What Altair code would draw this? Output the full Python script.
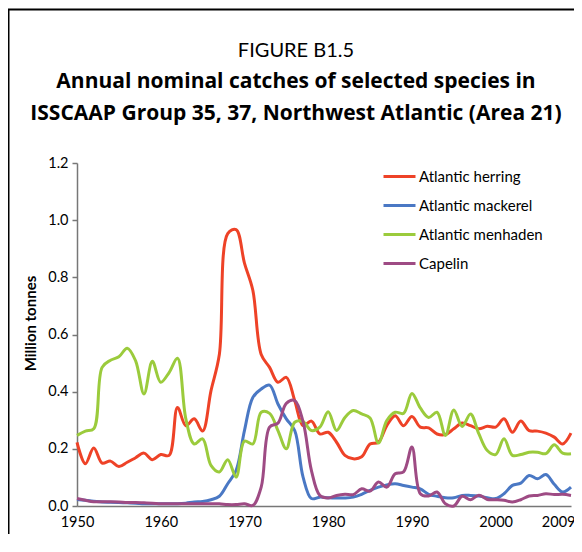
import altair as alt
import pandas as pd

years = list(range(1950, 2010))

herring = [0.223, 0.148, 0.203, 0.150, 0.157, 0.138, 0.153, 0.169, 0.185, 0.162,
           0.180, 0.177, 0.345, 0.281, 0.305, 0.262, 0.403, 0.530, 0.953, 0.967,
           0.850, 0.755, 0.530, 0.485, 0.433, 0.450, 0.369, 0.281, 0.297, 0.252,
           0.258, 0.223, 0.177, 0.165, 0.172, 0.217, 0.223, 0.281, 0.316, 0.281,
           0.313, 0.276, 0.273, 0.252, 0.250, 0.270, 0.290, 0.281, 0.270, 0.279,
           0.276, 0.305, 0.258, 0.297, 0.264, 0.262, 0.255, 0.241, 0.217, 0.255]

mackerel = [0.023, 0.020, 0.017, 0.014, 0.013, 0.012, 0.011, 0.010, 0.008, 0.008,
            0.008, 0.008, 0.008, 0.010, 0.014, 0.016, 0.022, 0.034, 0.078, 0.124,
            0.264, 0.380, 0.409, 0.423, 0.357, 0.305, 0.264, 0.101, 0.026, 0.031,
            0.029, 0.028, 0.028, 0.031, 0.041, 0.055, 0.066, 0.074, 0.078, 0.072,
            0.066, 0.060, 0.041, 0.034, 0.029, 0.029, 0.037, 0.037, 0.035, 0.029,
            0.026, 0.043, 0.072, 0.080, 0.107, 0.095, 0.110, 0.076, 0.049, 0.066]

menhaden = [0.247, 0.262, 0.270, 0.485, 0.510, 0.522, 0.552, 0.508, 0.392, 0.506,
            0.433, 0.467, 0.517, 0.305, 0.217, 0.235, 0.142, 0.119, 0.162, 0.101,
            0.227, 0.217, 0.328, 0.324, 0.264, 0.200, 0.293, 0.295, 0.264, 0.276,
            0.330, 0.264, 0.310, 0.334, 0.322, 0.308, 0.220, 0.299, 0.328, 0.324,
            0.394, 0.343, 0.310, 0.328, 0.247, 0.336, 0.278, 0.322, 0.252, 0.194,
            0.180, 0.235, 0.177, 0.180, 0.188, 0.188, 0.183, 0.214, 0.185, 0.183]

capelin = [0.026, 0.020, 0.015, 0.015, 0.015, 0.014, 0.012, 0.012, 0.011, 0.010,
           0.008, 0.008, 0.008, 0.008, 0.008, 0.008, 0.008, 0.008, 0.005, 0.005,
           0.008, 0.002, 0.066, 0.276, 0.290, 0.359, 0.369, 0.295, 0.124, 0.037,
           0.028, 0.037, 0.041, 0.040, 0.060, 0.052, 0.084, 0.066, 0.113, 0.119,
           0.206, 0.043, 0.035, 0.049, 0.008, 0.000, 0.034, 0.022, 0.038, 0.023,
           0.022, 0.020, 0.014, 0.022, 0.035, 0.037, 0.043, 0.040, 0.041, 0.037]

species = ["Atlantic herring", "Atlantic mackerel", "Atlantic menhaden", "Capelin"]
colors = ["#EE4227", "#4A78C4", "#9BCB3C", "#9E4B84"]
series = [herring, mackerel, menhaden, capelin]

x_ticks = [1950, 1960, 1970, 1980, 1990, 2000, 2009]
y_ticks = [0.0, 0.2, 0.4, 0.6, 0.8, 1.0, 1.2]

rows = []
for name, vals in zip(species, series):
    for yr, v in zip(years, vals):
        rows.append({"year": yr, "species": name, "value": v})
df = pd.DataFrame(rows)

FONT = "Lato"

lines = alt.Chart(df).mark_line(strokeWidth=3, interpolate="catmull-rom", clip=False).encode(
    x=alt.X("year:Q",
            scale=alt.Scale(domain=[1950, 2009], nice=False, zero=False),
            axis=alt.Axis(values=x_ticks, format="d", title=None, tickSize=0,
                          labelFlush=False, labelPadding=9, labelFontSize=14.5,
                          labelColor="black", labelFont=FONT,
                          labelAlign={"condition": {"test": "datum.value == 2009", "value": "right"},
                                      "value": "center"},
                          labelOffset={"condition": {"test": "datum.value == 2009", "value": 4},
                                       "value": 0},
                          domainColor="#777777", domainWidth=1.5, grid=False)),
    y=alt.Y("value:Q",
            scale=alt.Scale(domain=[0, 1.2], nice=False),
            axis=alt.Axis(values=y_ticks, format=".1f", title="Million tonnes",
                          titleFontWeight="bold", titleFontSize=15, titleColor="black",
                          titleFont=FONT, titlePadding=9, titleY=160,
                          tickSize=5, tickColor="#777777", tickWidth=1.5,
                          labelPadding=4, labelFontSize=14.5, labelColor="black",
                          labelFont=FONT, labelFlush=False,
                          domainColor="#777777", domainWidth=1.5, grid=False)),
    color=alt.Color("species:N",
                    scale=alt.Scale(domain=species, range=colors),
                    legend=alt.Legend(title=None, orient="none", legendX=305, legendY=-4,
                                      symbolType="stroke", symbolSize=1024,
                                      symbolStrokeWidth=3, labelOffset=2,
                                      labelFontSize=15, labelFont=FONT, labelColor="black",
                                      rowPadding=3, padding=0)),
)

frame = alt.Chart(alt.Data(values=[{}])).mark_rect(
    fill=None, stroke="black", strokeWidth=2, clip=False
).encode(
    x=alt.value(-68.5), x2=alt.value(700),
    y=alt.value(-153.5), y2=alt.value(700),
)

chart = alt.layer(frame, lines).properties(
    width=494,
    height=343,
    title=alt.TitleParams(
        text="FIGURE B1.5",
        subtitle=["Annual nominal catches of selected species in",
                  "ISSCAAP Group 35, 37, Northwest Atlantic (Area 21)"],
        font=FONT, fontSize=20, fontWeight="normal", color="black",
        subtitleFont="Open Sans", subtitleFontSize=21, subtitleFontWeight="bold",
        subtitleColor="black", subtitleLineHeight=32, subtitlePadding=10,
        anchor="middle", frame="group", dx=-28, offset=-115,
    ),
    autosize=alt.AutoSizeParams(type="none"),
    padding={"left": 69, "top": 155, "right": 3, "bottom": 28},
    background="white",
).configure_view(stroke=None)

chart.save("out.html", embed_options={"renderer": "svg", "actions": False})
